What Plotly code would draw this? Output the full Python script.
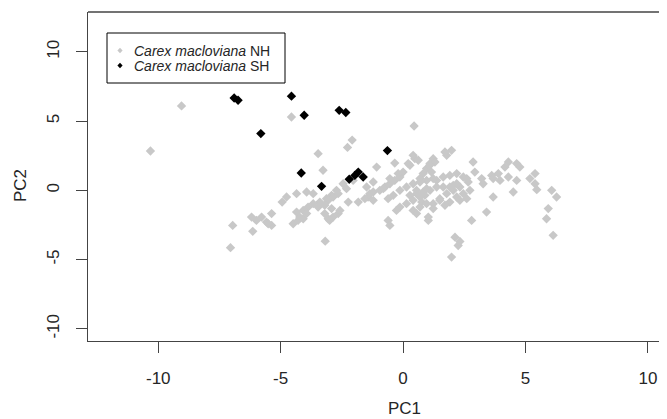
import plotly.graph_objects as go

# Carex macloviana NH (grey)
nh_pc1 = [-9.05, -10.32, -4.56, -2.08, -2.27, -3.47, -3.27, -1.08, -0.34, 0.45, -4.94, -6.96, -7.05, -6.14,
          -3.18, 1.03, 2.80, 3.41, 3.68, 4.50, 2.12, 2.25, 1.98, 2.32, 5.93, 5.86, 6.13, 6.07, 6.27, 5.39,
          5.18, 5.39, 5.46, 4.30, 4.64, 4.16, 4.77, 4.30, 4.64, 2.86, 2.93, 3.21, 3.27, 3.62, 3.89, 3.68,
          3.96, 1.98, 1.78, 1.71, 1.23, 1.10, 0.96, 0.82, 0.69, 0.41, 0.48, 0.28, 0.00, -0.13, -0.34, -0.54,
          0.62, 0.21, 1.30, 1.09, 1.16,
          1.37, 1.64, 1.91, 2.19, 2.46, 2.66, 2.73, 2.32, 2.05, 1.78, 1.50, 1.23, 1.10, 0.89, 0.76, 1.91,
          1.71, 2.19, 2.46, 1.23, 2.05, 1.64, 0.96, 0.14, 0.41, -0.13, -0.40, -0.61, 0.55, 0.28, -0.13, 0.14,
          0.41, 0.69, 0.96, 1.50, 2.32, 2.60, -0.27, 0.55, 1.03, -0.61, -0.54, -0.95, -0.74, -1.43, -1.22,
          -1.49, -1.22, -2.24, -1.83, -1.56, -1.36, -2.45, -2.72, -2.92, -3.13, -3.40, -3.67, -3.88, -4.08,
          -4.22, -2.31, -2.65, -2.86, -3.06, -3.20, -3.47, -3.20, -3.06, -2.86, -2.65, -2.58, -2.92, -3.00,
          -4.35, -4.49, -4.29, -4.08, -3.94, -6.19, -5.99, -5.78, -5.58, -5.37, -5.37, -5.51, -4.35, -4.76,
          -3.94, -3.67, -2.04, -1.22, -0.81, -0.54, -0.20, 0.69, 1.23, 2.60, 0.82, 1.37, 1.91, 2.19,
          0.41, 0.69, 0.96, 0.55]
nh_pc2 = [6.10, 2.84, 5.30, 3.63, 3.10, 2.65, 1.45, 1.68, 1.97, 4.65, -0.85, -2.53, -4.14, -2.96,
          -3.67, -2.17, -2.17, -1.57, -0.48, -0.12, -3.38, -3.98, -4.82, -3.69, -1.32, -2.05, -3.25, 0.00, -0.48, 1.21,
          0.85, 0.48, 0.05, 2.05, 1.93, 1.68, 1.68, 0.96, 0.72, 2.05, 1.32, 0.85, 0.48, 1.08, 1.21, 0.85,
          0.72, 2.89, 2.53, 2.77, 2.29, 1.93, 1.57, 1.21, 0.85, 2.53, 2.29, 1.81, 1.32, 0.96, 0.72, 0.48,
          2.17, 1.93, 2.05, 1.81, 1.32,
          0.72, 0.96, 1.08, 1.21, 0.96, 0.60, 0.00, 0.24, 0.00, -0.24, -0.60, -0.96, 0.00, -0.36, -0.85, -0.85,
          -1.08, -0.48, -0.24, -1.32, 0.36, 0.24, 0.72, 0.24, 0.48, 0.00, -0.36, -0.60, -0.24, -0.36, -1.21, -0.96,
          -1.45, -1.21, -0.96, -0.72, -0.72, -0.60, -1.45, -1.68, -1.93, -2.17, -2.53, 0.00, 0.24, -0.48, -0.72,
          0.24, -0.12, -0.85, -0.85, -0.60, -0.24, 0.48, 0.00, -0.36, -0.60, -0.85, -0.96, -1.21, -1.45,
          -1.93, 0.12, -0.24, -0.48, -0.72, -1.08, -1.21, -1.68, -2.05, -1.93, -1.68, -1.45, -1.32, -2.17,
          -1.57, -2.41, -2.17, -2.05, -1.68, -1.93, -2.17, -1.93, -2.29, -1.68, -2.53, -2.41, -0.24, -0.48,
          -0.12, -0.24, 0.72, 0.60, 0.12, 0.85, 1.21, 0.60, 0.85, 0.85, -0.12, 0.24, 0.24, 0.48,
          -0.72, -0.48, 0.12, 0.00]

# Carex macloviana SH (black)
sh_pc1 = [-6.90, -6.74, -4.56, -4.04, -2.61, -2.34, -5.81, -0.64, -4.16, -3.33, -1.83, -1.63, -2.20, -1.97]
sh_pc2 = [6.67, 6.51, 6.80, 5.42, 5.78, 5.62, 4.10, 2.87, 1.25, 0.29, 1.32, 0.96, 0.80, 1.08]

x_ticks = [-10, -5, 0, 5, 10]
y_ticks = [-10, -5, 0, 5, 10]
legend_labels = ["<i>Carex macloviana</i> NH", "<i>Carex macloviana</i> SH"]
legend_colors = ["#C8C8C8", "#000000"]

# the page body adds an 8px offset; lay out in page pixels and compensate
OFF = 8
W, H = 667 - OFF, 419 - OFF
L, T = 88 - OFF, 12 - OFF
BOT = 341 - OFF
B = H - BOT
PW, PH = W - L, BOT - T


def px(xp):
    return (xp - OFF - L) / PW


def py(yp):
    return (BOT - (yp - OFF)) / PH


FONT = "Liberation Sans, Arial, sans-serif"
AX = "#444444"
TXT = "#262626"

fig = go.Figure()
fig.add_trace(go.Scatter(x=nh_pc1, y=nh_pc2, mode="markers", showlegend=False,
                         marker=dict(symbol="diamond", size=7.2, color=legend_colors[0], line=dict(width=0))))
fig.add_trace(go.Scatter(x=sh_pc1, y=sh_pc2, mode="markers", showlegend=False,
                         marker=dict(symbol="diamond", size=7.2, color=legend_colors[1], line=dict(width=0))))

shapes = [
    dict(type="line", xref="paper", yref="paper", x0=0, x1=1, y0=1, y1=1, line=dict(color=AX, width=1.3)),
    dict(type="rect", xref="paper", yref="paper", x0=px(107), x1=px(285), y0=py(33), y1=py(83),
         line=dict(color="#000000", width=1), fillcolor="white"),
]
annotations = []
rows = [50.5, 65.5]
for lab, col, ry in zip(legend_labels, legend_colors, rows):
    shapes.append(dict(type="path", xref="paper", yref="paper", xsizemode="pixel", ysizemode="pixel",
                       xanchor=px(120), yanchor=py(ry),
                       path="M -2.6 0 L 0 2.8 L 2.6 0 L 0 -2.8 Z",
                       fillcolor=col, line=dict(width=0)))
    annotations.append(dict(text=lab, xref="paper", yref="paper", x=px(132), y=py(ry),
                            xanchor="left", yanchor="middle", showarrow=False,
                            font=dict(family=FONT, size=14, color=TXT)))

annotations.append(dict(text="PC1", xref="paper", yref="paper", x=px(404), y=py(408),
                        xanchor="center", yanchor="middle", showarrow=False,
                        font=dict(family=FONT, size=17, color=TXT)))
annotations.append(dict(text="PC2", xref="paper", yref="paper", x=px(20), y=py(186),
                        xanchor="center", yanchor="middle", showarrow=False, textangle=-90,
                        font=dict(family=FONT, size=17, color=TXT)))

fig.update_layout(
    width=W, height=H,
    margin=dict(l=L, r=0, t=T, b=B, pad=0),
    plot_bgcolor="white", paper_bgcolor="white",
    shapes=shapes, annotations=annotations,
    showlegend=False,
    xaxis=dict(range=[-12.87, 10.78], tickvals=x_ticks, ticktext=[str(v) for v in x_ticks],
               showgrid=False, zeroline=False, showline=True, linecolor=AX, linewidth=1.3,
               ticks="outside", ticklen=11, tickcolor=AX, tickwidth=1.3,
               tickfont=dict(family=FONT, size=17, color=TXT), ticklabelstandoff=10),
    yaxis=dict(range=[-10.88, 12.88], tickvals=y_ticks, ticktext=[str(v) for v in y_ticks],
               showgrid=False, zeroline=False, showline=True, linecolor=AX, linewidth=1.3,
               ticks="outside", ticklen=11, tickcolor=AX, tickwidth=1.3, tickangle=-90,
               tickfont=dict(family=FONT, size=17, color=TXT), ticklabelstandoff=10),
)

fig.write_html("out.html")
